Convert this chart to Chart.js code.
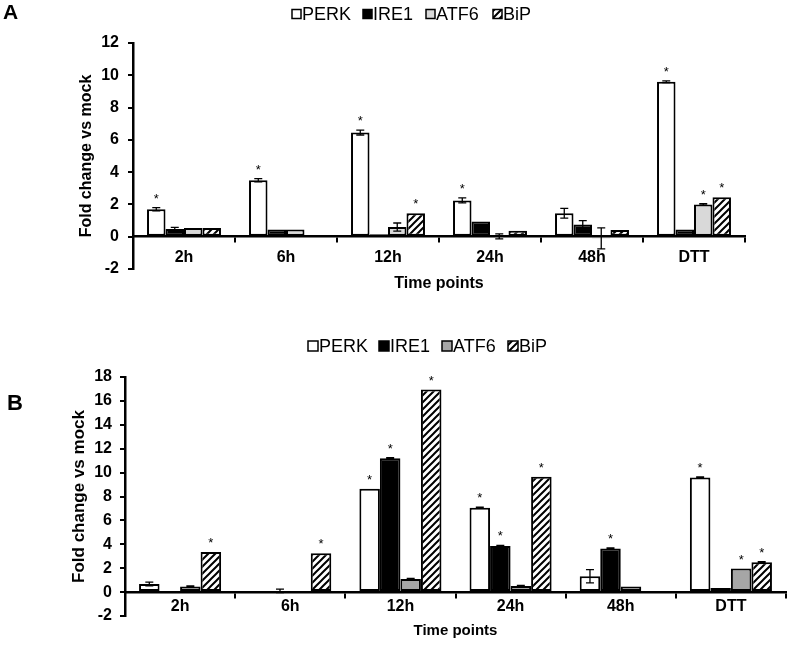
<!DOCTYPE html>
<html>
<head>
<meta charset="utf-8">
<script src="https://cdn.jsdelivr.net/npm/chart.js@4.4.0/dist/chart.umd.min.js"></script>
<style>
html, body { margin: 0; padding: 0; background: #fff; width: 792px; height: 645px; overflow: hidden; }
#panel_a { position: absolute; left: 0; top: 0; }
#panel_b { position: absolute; left: 0; top: 300px; }
</style>
</head>
<body>
<canvas id="panel_a" width="792" height="325"></canvas>
<canvas id="panel_b" width="792" height="364"></canvas>
<script>
// Categories and series names
const time_points = ["2h", "6h", "12h", "24h", "48h", "DTT"];
const gene_names = ["PERK", "IRE1", "ATF6", "BiP"];

// Panel A values (fold change vs mock)
const perk_a = [1.7, 3.5, 6.45, 2.25, 1.45, 9.6];
const ire1_a = [0.48, 0.45, 0.15, 0.95, 0.75, 0.45];
const atf6_a = [0.54, 0.45, 0.6, 0.02, -0.1, 2.0];
const bip_a  = [0.54, 0, 1.45, 0.37, 0.42, 2.45];
// Panel A error bars
const perk_a_err = [0.1, 0.1, 0.15, 0.15, 0.3, 0.05];
const ire1_a_err = [0.1, 0, 0, 0, 0.25, 0];
const atf6_a_err = [0, 0, 0.25, 0.15, 0.65, 0.05];
const bip_a_err  = [0, 0, 0, 0, 0, 0];
// Panel A significance (1 = asterisk)
const perk_a_sig = [1, 1, 1, 1, 0, 1];
const ire1_a_sig = [0, 0, 0, 0, 0, 0];
const atf6_a_sig = [0, 0, 0, 0, 0, 1];
const bip_a_sig  = [0, 0, 1, 0, 0, 1];

// Panel B values
const perk_b = [0.68, 0.05, 8.65, 7.05, 1.33, 9.6];
const ire1_b = [-0.1, 0.1, 11.2, 3.85, 3.65, 0.35];
const atf6_b = [0.46, 0.1, 1.1, 0.52, 0.46, 1.97];
const bip_b  = [3.36, 3.26, 16.95, 9.65, 0, 2.5];
// Panel B error bars
const perk_b_err = [0.15, 0, 0, 0.05, 0.55, 0.05];
const ire1_b_err = [0, 0.15, 0.05, 0.05, 0.05, 0];
const atf6_b_err = [0.05, 0, 0.05, 0.05, 0, 0];
const bip_b_err  = [0, 0, 0, 0, 0, 0.05];
// Panel B significance
const perk_b_sig = [0, 0, 1, 1, 0, 1];
const ire1_b_sig = [0, 0, 1, 1, 1, 0];
const atf6_b_sig = [0, 0, 0, 0, 0, 1];
const bip_b_sig  = [1, 1, 1, 1, 0, 1];

const font_family = "'Liberation Sans', Arial, sans-serif";

// diagonal hatch used for BiP
function make_hatch(){
  const s = 7;
  const c = document.createElement("canvas");
  c.width = s; c.height = s;
  const g = c.getContext("2d");
  g.fillStyle = "#fff";
  g.fillRect(0, 0, s, s);
  g.strokeStyle = "#000";
  g.lineWidth = 2;
  g.beginPath();
  g.moveTo(-1, s + 1); g.lineTo(s + 1, -1);
  g.moveTo(-s / 2, s / 2); g.lineTo(s / 2, -s / 2);
  g.moveTo(s / 2, s * 1.5); g.lineTo(s * 1.5, s / 2);
  g.stroke();
  return g.createPattern(c, "repeat");
}
const hatch = make_hatch();

function make_datasets(values, errors, sigs, fills){
  return gene_names.map((name, i) => ({
    label: name,
    data: values[i],
    errors: errors[i],
    sig: sigs[i],
    backgroundColor: fills[i],
    borderColor: "#000",
    borderWidth: 2,
    borderSkipped: false,
    barPercentage: 1.0
  }));
}

// error bars and asterisks on top of the bars
const error_bar_plugin = {
  id: "error_bars",
  afterDatasetsDraw(chart){
    const ctx = chart.ctx;
    const y = chart.scales.y;
    ctx.save();
    ctx.strokeStyle = "#000";
    ctx.fillStyle = "#000";
    ctx.lineWidth = 1.3;
    ctx.font = "13px " + font_family;
    ctx.textAlign = "center";
    ctx.textBaseline = "alphabetic";
    chart.data.datasets.forEach((ds, i) => {
      chart.getDatasetMeta(i).data.forEach((bar, j) => {
        const v = ds.data[j], e = ds.errors[j];
        let top = Math.min(y.getPixelForValue(v), y.getPixelForValue(0));
        if (e > 0){
          const y1 = y.getPixelForValue(v + e), y2 = y.getPixelForValue(v - e);
          ctx.beginPath();
          ctx.moveTo(bar.x, y1); ctx.lineTo(bar.x, y2);
          ctx.moveTo(bar.x - 4, y1); ctx.lineTo(bar.x + 4, y1);
          ctx.moveTo(bar.x - 4, y2); ctx.lineTo(bar.x + 4, y2);
          ctx.stroke();
          top = Math.min(top, y1);
        }
        if (ds.sig[j]) ctx.fillText("*", bar.x, top - 5);
      });
    });
    ctx.restore();
  }
};

// panel letter + legend row
const deco_plugin = {
  id: "deco",
  afterDraw(chart, args, opts){
    const ctx = chart.ctx;
    ctx.save();
    ctx.fillStyle = "#000";
    ctx.textBaseline = "middle";
    ctx.textAlign = "left";
    ctx.font = "bold " + opts.letter_size + "px " + font_family;
    ctx.fillText(opts.letter, opts.letter_x, opts.letter_y);
    ctx.font = opts.legend_size + "px " + font_family;
    chart.data.datasets.forEach((ds, i) => {
      const x = opts.legend_x[i], b = opts.box;
      ctx.fillStyle = ds.backgroundColor;
      ctx.fillRect(x, opts.legend_y - b / 2, b, b);
      ctx.strokeStyle = "#000";
      ctx.lineWidth = 1.5;
      ctx.strokeRect(x, opts.legend_y - b / 2, b, b);
      ctx.fillStyle = "#000";
      ctx.fillText(ds.label, x + b + 1, opts.legend_y + 1);
    });
    ctx.restore();
  }
};

function make_options(cfg){
  return {
    responsive: false,
    animation: false,
    events: [],
    layout: { padding: { left: 0, right: cfg.pad_right, top: cfg.pad_top, bottom: cfg.pad_bottom } },
    plugins: {
      legend: { display: false },
      tooltip: { enabled: false },
      deco: cfg.deco
    },
    datasets: { bar: { categoryPercentage: cfg.cat_pct } },
    scales: {
      x: {
        position: { y: 0 },
        afterFit: s => { s.height = cfg.pad_bottom; },
        grid: { offset: true, drawOnChartArea: false, drawTicks: true, tickLength: 5, color: "#000", lineWidth: 2 },
        border: { display: true, color: "#000", width: 2.5 },
        ticks: { color: "#000", padding: cfg.x_tick_pad, font: { family: font_family, size: 16, weight: "bold" } },
        title: { display: true, text: "Time points", color: "#000", padding: 0,
                 font: { family: font_family, size: cfg.x_title_size, weight: "bold" } }
      },
      y: {
        min: -2,
        max: cfg.y_max,
        afterFit: s => { s.width = cfg.y_width; },
        grid: { drawOnChartArea: false, drawTicks: true, tickLength: 5, color: "#000", lineWidth: 2 },
        border: { display: true, color: "#000", width: 2.5 },
        ticks: { stepSize: 2, color: "#000", padding: cfg.y_tick_pad, font: { family: font_family, size: 16, weight: "bold" } },
        title: { display: true, text: "Fold change vs mock", color: "#000",
                 padding: { top: cfg.y_title_pad, bottom: 0 },
                 font: { family: font_family, size: cfg.y_title_size, weight: "bold" } }
      }
    }
  };
}

new Chart(document.getElementById("panel_a").getContext("2d"), {
  type: "bar",
  data: {
    labels: time_points,
    datasets: make_datasets(
      [perk_a, ire1_a, atf6_a, bip_a],
      [perk_a_err, ire1_a_err, atf6_a_err, bip_a_err],
      [perk_a_sig, ire1_a_sig, atf6_a_sig, bip_a_sig],
      ["#ffffff", "#000000", "#d9d9d9", hatch])
  },
  options: make_options({
    pad_right: 47, pad_top: 43, pad_bottom: 56, cat_pct: 0.725, x_tick_pad: 6, x_title_size: 16,
    y_max: 12, y_width: 133, y_tick_pad: 9, y_title_pad: 77, y_title_size: 16,
    deco: { letter: "A", letter_x: 3, letter_y: 13, letter_size: 21,
            legend_x: [292, 363, 426, 493], legend_y: 14, legend_size: 18, box: 9 }
  }),
  plugins: [error_bar_plugin, deco_plugin]
});

new Chart(document.getElementById("panel_b").getContext("2d"), {
  type: "bar",
  data: {
    labels: time_points,
    datasets: make_datasets(
      [perk_b, ire1_b, atf6_b, bip_b],
      [perk_b_err, ire1_b_err, atf6_b_err, bip_b_err],
      [perk_b_sig, ire1_b_sig, atf6_b_sig, bip_b_sig],
      ["#ffffff", "#000000", "#a6a6a6", hatch])
  },
  options: make_options({
    pad_right: 6, pad_top: 77, pad_bottom: 48, cat_pct: 0.745, x_tick_pad: 0, x_title_size: 15,
    y_max: 18, y_width: 125, y_tick_pad: 8, y_title_pad: 69, y_title_size: 17,
    deco: { letter: "B", letter_x: 7, letter_y: 104, letter_size: 22,
            legend_x: [308, 379, 442, 508], legend_y: 46, legend_size: 18, box: 10 }
  }),
  plugins: [error_bar_plugin, deco_plugin]
});
</script>
</body>
</html>
